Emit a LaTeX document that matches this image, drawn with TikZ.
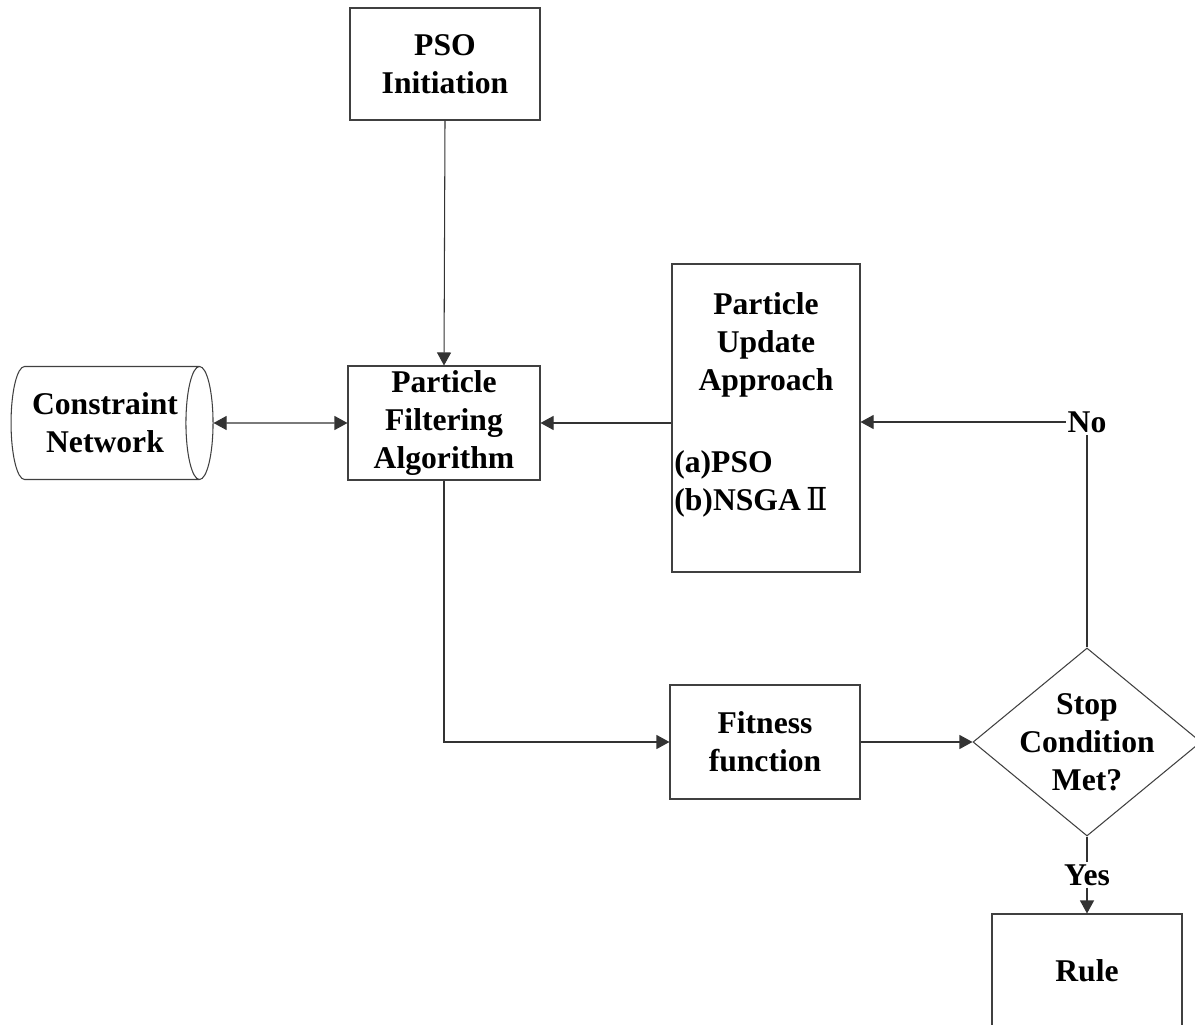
\documentclass[tikz,border=0pt]{standalone}
\usepackage{fontspec}
\setmainfont{Liberation Serif}
\newfontfamily\numfont{DejaVu Serif}
\usetikzlibrary{shapes.geometric,arrows.meta}

\begin{document}
\begin{tikzpicture}[
    box/.style={draw=black!75,line width=0.6pt,minimum width=3.8cm,minimum height=2.28cm,inner sep=0pt},
    decision/.style={diamond,draw=black!75,line width=0.6pt,minimum width=4.56cm,minimum height=3.76cm,inner sep=0pt},
    store/.style={cylinder,draw=black!75,line width=0.6pt,shape aspect=0.45,minimum height=4.04cm,minimum width=2.26cm,inner sep=0pt},
    txt/.style={align=center,inner sep=1pt},
    link/.style={draw=black!80,line width=0.6pt},
    tip/.style={-{Triangle[length=0.26cm,width=0.28cm]}},
    twotip/.style={{Triangle[length=0.26cm,width=0.28cm]}-{Triangle[length=0.26cm,width=0.28cm]}},
    every node/.style={font=\bfseries\fontsize{18}{21.6}\selectfont}
  ]
            \useasboundingbox (0,0) rectangle (23.9,-20.5);

            \node[box,minimum width=3.8cm,minimum height=2.24cm,align=center] (init) at (8.9,-1.28) {PSO\\Initiation};
            \node[box,minimum width=3.84cm,align=center] (filter) at (8.88,-8.46) {Particle\\Filtering\\Algorithm};
            \node[store,align=center] (net) at (2.1,-8.46) {Constraint\\Network};
            \node[box,minimum width=3.76cm,minimum height=6.16cm] (update) at (15.32,-8.36) {};
            \node[txt] (updtitle) at (15.32,-6.9) {Particle\\Update\\Approach};
            \node[txt,align=left,anchor=west,inner sep=0pt] (updlist) at (13.48,-9.68) {(a)PSO\\(b)NSGA\,{\numfont\mdseries Ⅱ}};
            \node[box,align=center] (fitness) at (15.3,-14.84) {Fitness\\function};
            \node[decision,label={[txt]center:Stop\\Condition\\Met?}] (stop) at (21.74,-14.84) {};
            \node[txt] (no) at (21.74,-8.44) {No};
            \node[txt] (yes) at (21.74,-17.5) {Yes};
            \node[box] (rule) at (21.74,-19.42) {Rule};

            \draw[link,tip] (init.south) -- (filter.north);
            \draw[link,twotip] (net.east) -- (filter.west);
            \draw[link,tip] (update.west |- filter.east) -- (filter.east);
            \draw[link,tip] (filter.south) |- (fitness.west);
            \draw[link,tip] (fitness.east) -- (stop.west);
            \draw[link] (stop.north) -- (no.south);
            \draw[link,tip] (no.west) -- (no.west -| update.east);
            \draw[link] (stop.south) -- (yes.north);
            \draw[link,tip] (yes.south) -- (rule.north);
\end{tikzpicture}
\end{document}
